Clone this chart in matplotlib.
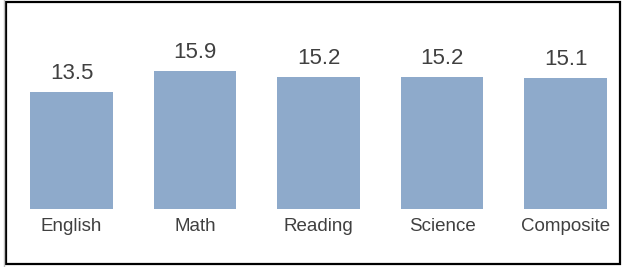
import matplotlib.pyplot as plt
from matplotlib.patches import Rectangle
from matplotlib.lines import Line2D

plt.rcParams['font.family'] = ['Liberation Sans', 'DejaVu Sans']

subjects = ['English', 'Math', 'Reading', 'Science', 'Composite']
scores = [13.5, 15.9, 15.2, 15.2, 15.1]
bar_color = '#8eaacb'
text_color = '#404040'

W, H = 624, 267
fig = plt.figure(figsize=(W / 100, H / 100), dpi=100)

# pixel geometry of the bars in the reference
x0, step = 71.5, 123.5       # centre of first bar, spacing
base, ppu = 209, 8.67        # baseline pixel row, pixels per unit

ax = fig.add_axes([0, (H - base) / H, 1, base / H])
x = range(len(subjects))
bars = ax.bar(x, scores, width=0.67, color=bar_color)
ax.set_xlim(-x0 / step, (W - x0) / step)
ax.set_ylim(0, base / ppu)

for b, v in zip(bars, scores):
    ax.annotate(f'{v:.1f}', (b.get_x() + b.get_width() / 2, v),
                xytext=(0, 6), textcoords='offset points',
                ha='center', va='bottom', fontsize=16, color=text_color)

ax.set_xticks(list(x))
ax.set_xticklabels(subjects, fontsize=13.5, color=text_color)
ax.tick_params(axis='x', length=0, pad=6.5)
ax.set_yticks([])
for s in ax.spines.values():
    s.set_visible(False)

# outer frame
fig.patches.append(Rectangle((5.5 / W, 3.5 / H), 614 / W, 262 / H,
                             transform=fig.transFigure, fill=False,
                             edgecolor='black', linewidth=1.6))
fig.lines.append(Line2D([3.5 / W, 3.5 / W], [0, 1], transform=fig.transFigure,
                        color='#c0c0c0', linewidth=1))

fig.savefig('out.png', dpi=100)
